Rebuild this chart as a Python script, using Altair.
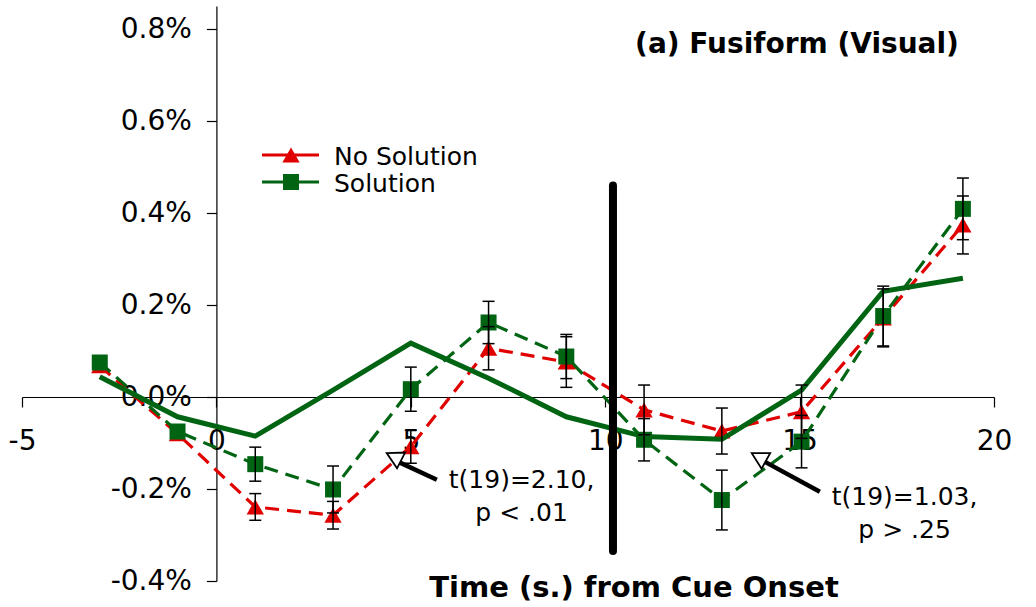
import altair as alt
import pandas as pd

# Scan times (s) relative to cue onset
time_s = [-3, -1, 1, 3, 5, 7, 9, 11, 13, 15.05, 17.15, 19.2]

# Percent signal change in the fusiform ROI
no_solution = [0.068, -0.080, -0.239, -0.257, -0.108, 0.106, 0.076, -0.028, -0.074, -0.032, 0.172, 0.374]
no_solution_se = [None, None, 0.029, 0.030, 0.036, 0.047, 0.055, 0.054, 0.050, 0.058, 0.063, 0.063]
solution = [0.075, -0.075, -0.146, -0.201, 0.017, 0.162, 0.088, -0.093, -0.224, -0.097, 0.176, 0.409]
solution_se = [None, None, 0.037, 0.051, 0.048, 0.046, 0.048, 0.046, 0.065, 0.057, 0.065, 0.067]
# Unmarked solid trace
solid_trace = [0.044, -0.043, -0.085, 0.015, 0.117, 0.041, -0.043, -0.086, -0.092, 0.015, 0.230, 0.258]

x_ticks = [-5, 0, 5, 10, 15, 20]
y_ticks = [-0.4, -0.2, 0.0, 0.2, 0.4, 0.6, 0.8]

# Thick vertical event marker
marker_time = [10.2]
marker_top = [0.46]
marker_bottom = [-0.335]

# Arrow annotations (tail -> tip)
arrow_tail_x = [5.67, 15.52]
arrow_tail_y = [-0.180, -0.206]
arrow_base_x = [4.68, 14.11]
arrow_base_y = [-0.141, -0.141]
arrow_tip_x = [4.38, 13.77]
arrow_tip_y = [-0.122, -0.122]
arrow_angle = [297, 299]

note_x = [7.85, 7.85, 17.7, 17.7]
note_y = [-0.180, -0.252, -0.217, -0.289]
note_text = ["t(19)=2.10,", "p < .01", "t(19)=1.03,", "p > .25"]

legend_labels = ["No Solution", "Solution"]
panel_title = "(a) Fusiform (Visual)"
x_title = "Time (s.) from Cue Onset"

FONT = "DejaVu Sans"
RED = "#E00000"
GREEN = "#006412"

x_scale = alt.Scale(domain=[-5, 20], nice=False, zero=False)
y_scale = alt.Scale(domain=[-0.4, 0.85], nice=False, zero=False)

x_axis = alt.Axis(
    values=x_ticks, title=None, offset=-184, grid=False,
    tickSize=10, tickColor="black", tickWidth=1.2,
    domainColor="black", domainWidth=1.2,
    labelFont=FONT, labelFontSize=28, labelColor="black", labelPadding=20,
    labelFlush=False, labelOverlap=False,
    labelExpr="(datum.value < 0 ? '-' : '') + abs(datum.value)",
)
y_axis = alt.Axis(
    values=y_ticks, title=None, offset=-194.4, grid=False,
    tickSize=10, tickColor="black", tickWidth=1.2,
    domainColor="black", domainWidth=1.2,
    labelFont=FONT, labelFontSize=28, labelColor="black", labelPadding=15,
    labelFlush=False, labelOverlap=False,
    labelExpr="(datum.value < 0 ? '-' : '') + format(abs(datum.value), '.1f') + '%'",
)


def X(field):
    return alt.X(field, type="quantitative", scale=x_scale, axis=x_axis)


def Y(field):
    return alt.Y(field, type="quantitative", scale=y_scale, axis=y_axis)


rows = []
for name, vals, ses in [("No Solution", no_solution, no_solution_se),
                        ("Solution", solution, solution_se)]:
    for t, v, s in zip(time_s, vals, ses):
        rows.append({
            "time": t, "value": v, "series": name,
            "lo": None if s is None else v - s,
            "hi": None if s is None else v + s,
        })
df = pd.DataFrame(rows)
red_df = df[df.series == "No Solution"]
green_df = df[df.series == "Solution"]
err_df = df.dropna(subset=["lo"])
solid_df = pd.DataFrame({"time": time_s, "value": solid_trace})

DASH = [14, 8]
red_line = alt.Chart(red_df).mark_line(
    color=RED, strokeWidth=3.2, strokeDash=DASH
).encode(x=X("time"), y=Y("value"))
green_line = alt.Chart(green_df).mark_line(
    color=GREEN, strokeWidth=3.2, strokeDash=DASH
).encode(x=X("time"), y=Y("value"))
red_pts = alt.Chart(red_df).mark_point(
    shape="triangle-up", filled=True, size=300, color=RED, opacity=1
).encode(x=X("time"), y=Y("value"))
green_pts = alt.Chart(green_df).mark_point(
    shape="square", filled=True, size=256, color=GREEN, opacity=1
).encode(x=X("time"), y=Y("value"))
solid_line = alt.Chart(solid_df).mark_line(
    color=GREEN, strokeWidth=5
).encode(x=X("time"), y=Y("value"))

err_rule = alt.Chart(err_df).mark_rule(color="black", strokeWidth=1.5).encode(
    x=X("time"), y=Y("lo"), y2="hi"
)
err_lo = alt.Chart(err_df).mark_tick(
    orient="horizontal", color="black", size=12, thickness=1.5, opacity=1
).encode(x=X("time"), y=Y("lo"))
err_hi = alt.Chart(err_df).mark_tick(
    orient="horizontal", color="black", size=12, thickness=1.5, opacity=1
).encode(x=X("time"), y=Y("hi"))

marker_df = pd.DataFrame({"t": marker_time, "top": marker_top, "bottom": marker_bottom})
vline = alt.Chart(marker_df).mark_rule(
    color="black", strokeWidth=8, strokeCap="round"
).encode(x=X("t"), y=Y("bottom"), y2="top")

arrow_df = pd.DataFrame({
    "tx": arrow_tail_x, "ty": arrow_tail_y,
    "bx": arrow_base_x, "by": arrow_base_y,
    "px": arrow_tip_x, "py": arrow_tip_y,
    "angle": arrow_angle,
})
shaft = alt.Chart(arrow_df).mark_rule(color="black", strokeWidth=4.5).encode(
    x=X("tx"), y=Y("ty"), x2="bx", y2="by"
)
head = alt.Chart(arrow_df).mark_point(
    shape="M0,0L1.1,2L-1.1,2Z", size=260, fill="white", stroke="black",
    strokeWidth=1.8, fillOpacity=1, opacity=1
).encode(x=X("px"), y=Y("py"), angle=alt.Angle("angle:Q", scale=None))

note_df = pd.DataFrame({"x": note_x, "y": note_y, "text": note_text})
notes = alt.Chart(note_df).mark_text(
    font=FONT, fontSize=25, color="black", align="center", baseline="middle"
).encode(x=X("x"), y=Y("y"), text="text:N")

# Legend drawn by hand: line sample with a marker, then the label
legend_layers = []
for label, color, shape, size, ypx in [
    (legend_labels[0], RED, "triangle-up", 300, 149),
    (legend_labels[1], GREEN, "square", 256, 176),
]:
    ldf = pd.DataFrame({"label": [label]})
    legend_layers.append(alt.Chart(ldf).mark_rule(color=color, strokeWidth=3).encode(
        x=alt.value(240), x2=alt.value(297), y=alt.value(ypx)))
    legend_layers.append(alt.Chart(ldf).mark_point(
        shape=shape, filled=True, size=size, color=color, opacity=1
    ).encode(x=alt.value(269), y=alt.value(ypx)))
    legend_layers.append(alt.Chart(ldf).mark_text(
        font=FONT, fontSize=25, color="black", align="left", baseline="middle"
    ).encode(x=alt.value(312), y=alt.value(ypx + 2), text="label:N"))

title_mark = alt.Chart(pd.DataFrame({"label": [panel_title]})).mark_text(
    font=FONT, fontSize=28, fontWeight="bold", color="black", align="center", baseline="middle"
).encode(x=alt.value(775), y=alt.value(39), text="label:N")
xtitle_mark = alt.Chart(pd.DataFrame({"label": [x_title]})).mark_text(
    font=FONT, fontSize=29, fontWeight="bold", color="black", align="center", baseline="middle"
).encode(x=alt.value(612), y=alt.value(582), text="label:N")

chart = alt.layer(
    red_line, green_line, red_pts, green_pts, solid_line,
    err_rule, err_lo, err_hi, vline, shaft, head, notes,
    *legend_layers, title_mark, xtitle_mark,
).properties(
    width=972, height=575,
    autosize=alt.AutoSizeParams(type="none"),
    padding={"left": 22, "top": 6, "right": 42, "bottom": 26},
    background="white",
).configure_view(stroke=None)

chart.save("out.html", embed_options={"renderer": "svg", "actions": False})
